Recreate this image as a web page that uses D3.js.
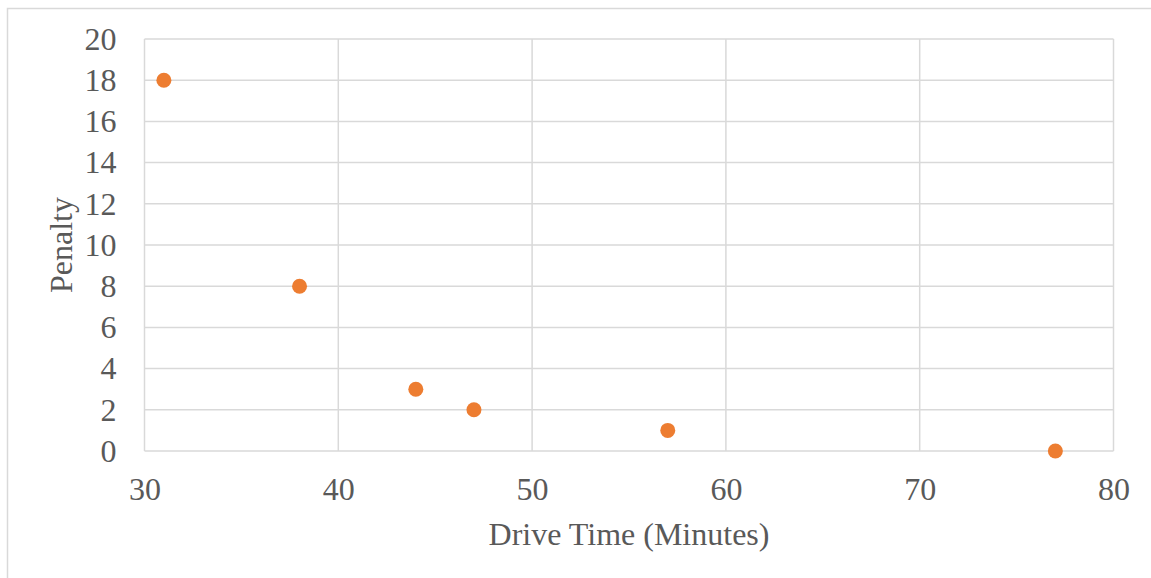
<!DOCTYPE html>
<html>
<head>
<meta charset="utf-8">
<script src="https://cdn.jsdelivr.net/npm/d3@7"></script>
<style>
	html, body { margin: 0; padding: 0; background: #fff; }
	svg { display: block; }
	text { font-family: "Liberation Serif", "Times New Roman", serif; fill: #595959; }
</style>
</head>
<body>
<div class="container"></div>
<script>
	"use strict";

	// drive time (minutes) vs penalty
	var driveTimes = [31, 38, 44, 47, 57, 77];
	var penalties = [18, 8, 3, 2, 1, 0];
	var xTicks = [30, 40, 50, 60, 70, 80];
	var yTicks = [0, 2, 4, 6, 8, 10, 12, 14, 16, 18, 20];
	var xTitle = "Drive Time (Minutes)";
	var yTitle = "Penalty";

	var iWidth = 1151;
	var iHeight = 578;
	var oPlot = { left: 144.5, right: 1113.5, top: 39, bottom: 451 };
	var sGrid = "#d9d9d9";
	var sDot = "#ED7D31";
	var iFont = 32;

	var oSVG = d3.select(".container")
		.append("svg")
		.attr("width", iWidth)
		.attr("height", iHeight);

	// outer chart border
	oSVG.append("rect")
		.attr("x", 7.5)
		.attr("y", 8.5)
		.attr("width", iWidth)
		.attr("height", iHeight)
		.attr("fill", "none")
		.attr("stroke", sGrid)
		.attr("stroke-width", 1.5);

	var x = d3.scaleLinear().domain([30, 80]).range([oPlot.left, oPlot.right]);
	var y = d3.scaleLinear().domain([0, 20]).range([oPlot.bottom, oPlot.top]);

	// vertical grid lines
	oSVG.append("g")
		.selectAll("line")
		.data(xTicks)
		.enter()
		.append("line")
		.attr("x1", function(d) { return x(d); })
		.attr("x2", function(d) { return x(d); })
		.attr("y1", oPlot.top)
		.attr("y2", oPlot.bottom)
		.attr("stroke", sGrid)
		.attr("stroke-width", 1.5);

	// horizontal grid lines
	oSVG.append("g")
		.selectAll("line")
		.data(yTicks)
		.enter()
		.append("line")
		.attr("x1", oPlot.left)
		.attr("x2", oPlot.right)
		.attr("y1", function(d) { return y(d); })
		.attr("y2", function(d) { return y(d); })
		.attr("stroke", sGrid)
		.attr("stroke-width", 1.5);

	// y axis labels
	var yAxis = d3.axisLeft(y).tickValues(yTicks).tickSize(0).tickPadding(28);
	var gY = oSVG.append("g")
		.attr("transform", "translate(" + oPlot.left + ",0)")
		.call(yAxis);
	gY.select(".domain").remove();
	gY.selectAll("text")
		.attr("font-size", iFont)
		.style("font-family", "'Liberation Serif', serif")
		.attr("fill", "#595959");

	// x axis labels
	var xAxis = d3.axisBottom(x).tickValues(xTicks).tickSize(0).tickPadding(26);
	var gX = oSVG.append("g")
		.attr("transform", "translate(0," + oPlot.bottom + ")")
		.call(xAxis);
	gX.select(".domain").remove();
	gX.selectAll("text")
		.attr("font-size", iFont)
		.style("font-family", "'Liberation Serif', serif")
		.attr("fill", "#595959");

	// axis titles
	oSVG.append("text")
		.attr("x", (oPlot.left + oPlot.right) / 2)
		.attr("y", 545)
		.attr("text-anchor", "middle")
		.attr("font-size", iFont)
		.text(xTitle);

	oSVG.append("text")
		.attr("transform", "translate(72," + ((oPlot.top + oPlot.bottom) / 2) + ") rotate(-90)")
		.attr("text-anchor", "middle")
		.attr("font-size", iFont)
		.text(yTitle);

	// points
	var aData = driveTimes.map(function(d, i) {
		return { x: d, y: penalties[i] };
	});

	oSVG.append("g")
		.selectAll("circle")
		.data(aData)
		.enter()
		.append("circle")
		.attr("cx", function(d) { return x(d.x); })
		.attr("cy", function(d) { return y(d.y); })
		.attr("r", 7.5)
		.style("fill", sDot);
</script>
</body>
</html>
